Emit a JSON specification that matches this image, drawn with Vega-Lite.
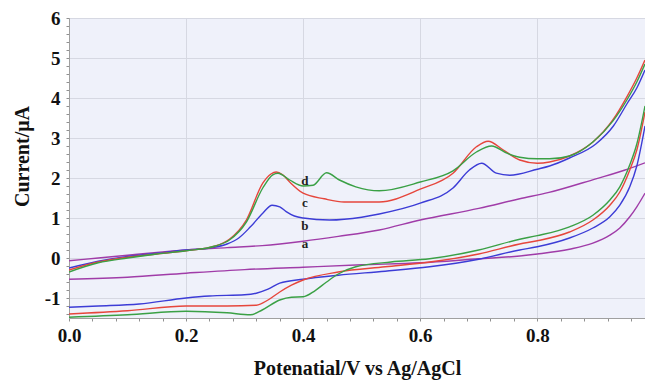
{
  "$schema": "https://vega.github.io/schema/vega-lite/v6.json",
  "width": 576,
  "height": 300,
  "autosize": "none",
  "padding": {"left": 69, "top": 18, "right": 0, "bottom": 63},
  "background": "white",
  "config": {
    "view": {"fill": "#eff1fa", "stroke": "#a8a8b0", "strokeWidth": 1},
    "axis": {
      "labelFont": "Liberation Serif", "labelFontWeight": "bold", "labelFontSize": 19, "labelColor": "#111",
      "titleFont": "Liberation Serif", "titleFontWeight": "bold", "titleFontSize": 20, "titleColor": "#111",
      "domainColor": "#a0a0a0", "tickColor": "#909090", "tickSize": 3, "gridColor": "#d6d8e2", "gridWidth": 1
    }
  },
  "datasets": {
    "curves": [
      {"c":"a","br":"f","x":0,"y":-0.07},{"c":"a","br":"f","x":0.05,"y":0.0},{"c":"a","br":"f","x":0.1,"y":0.07},{"c":"a","br":"f","x":0.15,"y":0.14},{"c":"a","br":"f","x":0.2,"y":0.2},{"c":"a","br":"f","x":0.27,"y":0.26},{"c":"a","br":"f","x":0.33,"y":0.31},{"c":"a","br":"f","x":0.4,"y":0.42},{"c":"a","br":"f","x":0.46,"y":0.54},{"c":"a","br":"f","x":0.53,"y":0.7},{"c":"a","br":"f","x":0.6,"y":0.95},{"c":"a","br":"f","x":0.7,"y":1.24},{"c":"a","br":"f","x":0.77,"y":1.48},{"c":"a","br":"f","x":0.82,"y":1.64},{"c":"a","br":"f","x":0.9,"y":1.98},{"c":"a","br":"f","x":0.95,"y":2.2},{"c":"a","br":"f","x":0.984,"y":2.38},
      {"c":"a","br":"r","x":0,"y":-0.53},{"c":"a","br":"r","x":0.1,"y":-0.48},{"c":"a","br":"r","x":0.2,"y":-0.38},{"c":"a","br":"r","x":0.3,"y":-0.29},{"c":"a","br":"r","x":0.4,"y":-0.23},{"c":"a","br":"r","x":0.5,"y":-0.17},{"c":"a","br":"r","x":0.6,"y":-0.12},{"c":"a","br":"r","x":0.7,"y":-0.02},{"c":"a","br":"r","x":0.77,"y":0.05},{"c":"a","br":"r","x":0.8,"y":0.1},{"c":"a","br":"r","x":0.855,"y":0.22},{"c":"a","br":"r","x":0.895,"y":0.37},{"c":"a","br":"r","x":0.924,"y":0.57},{"c":"a","br":"r","x":0.941,"y":0.75},{"c":"a","br":"r","x":0.958,"y":1.03},{"c":"a","br":"r","x":0.97,"y":1.28},{"c":"a","br":"r","x":0.984,"y":1.62},
      {"c":"b","br":"f","x":0,"y":-0.25},{"c":"b","br":"f","x":0.05,"y":-0.08},{"c":"b","br":"f","x":0.1,"y":0.04},{"c":"b","br":"f","x":0.15,"y":0.12},{"c":"b","br":"f","x":0.2,"y":0.2},{"c":"b","br":"f","x":0.24,"y":0.25},{"c":"b","br":"f","x":0.27,"y":0.35},{"c":"b","br":"f","x":0.29,"y":0.5},{"c":"b","br":"f","x":0.31,"y":0.78},{"c":"b","br":"f","x":0.331,"y":1.12},{"c":"b","br":"f","x":0.347,"y":1.32},{"c":"b","br":"f","x":0.36,"y":1.28},{"c":"b","br":"f","x":0.371,"y":1.16},{"c":"b","br":"f","x":0.385,"y":1.05},{"c":"b","br":"f","x":0.4,"y":1.0},{"c":"b","br":"f","x":0.445,"y":0.95},{"c":"b","br":"f","x":0.5,"y":1.02},{"c":"b","br":"f","x":0.53,"y":1.1},{"c":"b","br":"f","x":0.6,"y":1.37},{"c":"b","br":"f","x":0.656,"y":1.75},{"c":"b","br":"f","x":0.684,"y":2.2},{"c":"b","br":"f","x":0.705,"y":2.37},{"c":"b","br":"f","x":0.73,"y":2.12},{"c":"b","br":"f","x":0.753,"y":2.07},{"c":"b","br":"f","x":0.8,"y":2.22},{"c":"b","br":"f","x":0.821,"y":2.3},{"c":"b","br":"f","x":0.855,"y":2.5},{"c":"b","br":"f","x":0.9,"y":2.85},{"c":"b","br":"f","x":0.93,"y":3.3},{"c":"b","br":"f","x":0.953,"y":3.85},{"c":"b","br":"f","x":0.97,"y":4.25},{"c":"b","br":"f","x":0.984,"y":4.7},
      {"c":"b","br":"r","x":0,"y":-1.23},{"c":"b","br":"r","x":0.05,"y":-1.2},{"c":"b","br":"r","x":0.12,"y":-1.15},{"c":"b","br":"r","x":0.2,"y":-1.0},{"c":"b","br":"r","x":0.24,"y":-0.95},{"c":"b","br":"r","x":0.3,"y":-0.92},{"c":"b","br":"r","x":0.32,"y":-0.88},{"c":"b","br":"r","x":0.34,"y":-0.78},{"c":"b","br":"r","x":0.36,"y":-0.63},{"c":"b","br":"r","x":0.4,"y":-0.53},{"c":"b","br":"r","x":0.46,"y":-0.43},{"c":"b","br":"r","x":0.54,"y":-0.33},{"c":"b","br":"r","x":0.616,"y":-0.22},{"c":"b","br":"r","x":0.7,"y":-0.03},{"c":"b","br":"r","x":0.77,"y":0.2},{"c":"b","br":"r","x":0.8,"y":0.28},{"c":"b","br":"r","x":0.855,"y":0.5},{"c":"b","br":"r","x":0.895,"y":0.75},{"c":"b","br":"r","x":0.924,"y":1.03},{"c":"b","br":"r","x":0.941,"y":1.32},{"c":"b","br":"r","x":0.958,"y":1.78},{"c":"b","br":"r","x":0.97,"y":2.3},{"c":"b","br":"r","x":0.984,"y":3.3},
      {"c":"c","br":"f","x":0,"y":-0.3},{"c":"c","br":"f","x":0.05,"y":-0.1},{"c":"c","br":"f","x":0.1,"y":0.02},{"c":"c","br":"f","x":0.15,"y":0.1},{"c":"c","br":"f","x":0.2,"y":0.18},{"c":"c","br":"f","x":0.25,"y":0.3},{"c":"c","br":"f","x":0.274,"y":0.47},{"c":"c","br":"f","x":0.303,"y":0.95},{"c":"c","br":"f","x":0.331,"y":1.87},{"c":"c","br":"f","x":0.345,"y":2.1},{"c":"c","br":"f","x":0.354,"y":2.15},{"c":"c","br":"f","x":0.365,"y":2.08},{"c":"c","br":"f","x":0.377,"y":1.9},{"c":"c","br":"f","x":0.4,"y":1.62},{"c":"c","br":"f","x":0.436,"y":1.48},{"c":"c","br":"f","x":0.47,"y":1.4},{"c":"c","br":"f","x":0.53,"y":1.4},{"c":"c","br":"f","x":0.6,"y":1.72},{"c":"c","br":"f","x":0.656,"y":2.12},{"c":"c","br":"f","x":0.696,"y":2.78},{"c":"c","br":"f","x":0.716,"y":2.92},{"c":"c","br":"f","x":0.742,"y":2.7},{"c":"c","br":"f","x":0.77,"y":2.45},{"c":"c","br":"f","x":0.8,"y":2.37},{"c":"c","br":"f","x":0.821,"y":2.4},{"c":"c","br":"f","x":0.855,"y":2.55},{"c":"c","br":"f","x":0.895,"y":2.9},{"c":"c","br":"f","x":0.929,"y":3.45},{"c":"c","br":"f","x":0.953,"y":4.03},{"c":"c","br":"f","x":0.97,"y":4.5},{"c":"c","br":"f","x":0.984,"y":4.95},
      {"c":"c","br":"r","x":0,"y":-1.4},{"c":"c","br":"r","x":0.1,"y":-1.32},{"c":"c","br":"r","x":0.2,"y":-1.2},{"c":"c","br":"r","x":0.27,"y":-1.2},{"c":"c","br":"r","x":0.32,"y":-1.18},{"c":"c","br":"r","x":0.34,"y":-1.05},{"c":"c","br":"r","x":0.36,"y":-0.85},{"c":"c","br":"r","x":0.38,"y":-0.68},{"c":"c","br":"r","x":0.4,"y":-0.55},{"c":"c","br":"r","x":0.46,"y":-0.35},{"c":"c","br":"r","x":0.54,"y":-0.22},{"c":"c","br":"r","x":0.616,"y":-0.1},{"c":"c","br":"r","x":0.7,"y":0.1},{"c":"c","br":"r","x":0.77,"y":0.35},{"c":"c","br":"r","x":0.8,"y":0.43},{"c":"c","br":"r","x":0.855,"y":0.65},{"c":"c","br":"r","x":0.895,"y":0.95},{"c":"c","br":"r","x":0.924,"y":1.32},{"c":"c","br":"r","x":0.941,"y":1.65},{"c":"c","br":"r","x":0.958,"y":2.2},{"c":"c","br":"r","x":0.97,"y":2.7},{"c":"c","br":"r","x":0.984,"y":3.65},
      {"c":"d","br":"f","x":0,"y":-0.35},{"c":"d","br":"f","x":0.05,"y":-0.12},{"c":"d","br":"f","x":0.1,"y":0.0},{"c":"d","br":"f","x":0.15,"y":0.1},{"c":"d","br":"f","x":0.2,"y":0.18},{"c":"d","br":"f","x":0.25,"y":0.3},{"c":"d","br":"f","x":0.274,"y":0.45},{"c":"d","br":"f","x":0.303,"y":0.9},{"c":"d","br":"f","x":0.331,"y":1.75},{"c":"d","br":"f","x":0.348,"y":2.08},{"c":"d","br":"f","x":0.357,"y":2.12},{"c":"d","br":"f","x":0.377,"y":1.95},{"c":"d","br":"f","x":0.4,"y":1.8},{"c":"d","br":"f","x":0.417,"y":1.82},{"c":"d","br":"f","x":0.44,"y":2.13},{"c":"d","br":"f","x":0.462,"y":1.95},{"c":"d","br":"f","x":0.49,"y":1.78},{"c":"d","br":"f","x":0.53,"y":1.68},{"c":"d","br":"f","x":0.6,"y":1.9},{"c":"d","br":"f","x":0.656,"y":2.18},{"c":"d","br":"f","x":0.696,"y":2.65},{"c":"d","br":"f","x":0.722,"y":2.8},{"c":"d","br":"f","x":0.748,"y":2.62},{"c":"d","br":"f","x":0.77,"y":2.52},{"c":"d","br":"f","x":0.8,"y":2.48},{"c":"d","br":"f","x":0.821,"y":2.48},{"c":"d","br":"f","x":0.855,"y":2.55},{"c":"d","br":"f","x":0.895,"y":2.9},{"c":"d","br":"f","x":0.929,"y":3.42},{"c":"d","br":"f","x":0.953,"y":3.95},{"c":"d","br":"f","x":0.97,"y":4.4},{"c":"d","br":"f","x":0.984,"y":4.85},
      {"c":"d","br":"r","x":0,"y":-1.48},{"c":"d","br":"r","x":0.1,"y":-1.42},{"c":"d","br":"r","x":0.2,"y":-1.33},{"c":"d","br":"r","x":0.27,"y":-1.37},{"c":"d","br":"r","x":0.31,"y":-1.42},{"c":"d","br":"r","x":0.33,"y":-1.3},{"c":"d","br":"r","x":0.36,"y":-1.05},{"c":"d","br":"r","x":0.38,"y":-0.98},{"c":"d","br":"r","x":0.4,"y":-0.97},{"c":"d","br":"r","x":0.42,"y":-0.82},{"c":"d","br":"r","x":0.44,"y":-0.6},{"c":"d","br":"r","x":0.46,"y":-0.4},{"c":"d","br":"r","x":0.49,"y":-0.22},{"c":"d","br":"r","x":0.55,"y":-0.1},{"c":"d","br":"r","x":0.616,"y":-0.02},{"c":"d","br":"r","x":0.7,"y":0.2},{"c":"d","br":"r","x":0.77,"y":0.47},{"c":"d","br":"r","x":0.8,"y":0.56},{"c":"d","br":"r","x":0.855,"y":0.78},{"c":"d","br":"r","x":0.895,"y":1.07},{"c":"d","br":"r","x":0.924,"y":1.45},{"c":"d","br":"r","x":0.941,"y":1.78},{"c":"d","br":"r","x":0.958,"y":2.33},{"c":"d","br":"r","x":0.97,"y":2.85},{"c":"d","br":"r","x":0.984,"y":3.8}
    ],
    "labels": [
      {"t":"d","x":0.403,"y":1.92},
      {"t":"c","x":0.403,"y":1.38},
      {"t":"b","x":0.403,"y":0.8},
      {"t":"a","x":0.403,"y":0.36}
    ]
  },
  "layer": [
    {
      "data": {"name": "curves"},
      "mark": {"type": "line", "interpolate": "monotone", "strokeWidth": 1.4, "clip": true},
      "encoding": {
        "x": {
          "field": "x", "type": "quantitative",
          "scale": {"domain": [0, 0.984], "nice": false, "zero": false},
          "axis": {
            "title": "Potenatial/V vs Ag/AgCl",
            "values": [0,0.04,0.08,0.12,0.16,0.2,0.24,0.28,0.32,0.36,0.4,0.44,0.48,0.52,0.56,0.6,0.64,0.68,0.72,0.76,0.8,0.84,0.88,0.92,0.96],
            "tickCount": 1000,
            "labelExpr": "abs(datum.value*5 - round(datum.value*5)) < 0.01 ? format(datum.value, '.1f') : ''",
            "gridOpacity": {"condition": {"test": "abs(datum.value*5 - round(datum.value*5)) < 0.01", "value": 1}, "value": 0},
            "labelOverlap": false,
            "labelFlush": false,
            "labelPadding": 5,
            "titleY": 50, "titleBaseline": "middle"
          }
        },
        "y": {
          "field": "y", "type": "quantitative",
          "scale": {"domain": [-1.5, 6], "nice": false, "zero": false},
          "axis": {
            "title": "Current/μA",
            "values": [-1.4,-1.2,-1,-0.8,-0.6,-0.4,-0.2,0,0.2,0.4,0.6,0.8,1,1.2,1.4,1.6,1.8,2,2.2,2.4,2.6,2.8,3,3.2,3.4,3.6,3.8,4,4.2,4.4,4.6,4.8,5,5.2,5.4,5.6,5.8,6],
            "tickCount": 1000,
            "labelExpr": "abs(datum.value - round(datum.value)) < 0.01 ? '' + round(datum.value) : ''",
            "gridOpacity": {"condition": {"test": "abs(datum.value - round(datum.value)) < 0.01", "value": 1}, "value": 0},
            "labelOverlap": false,
            "labelFlush": false,
            "labelPadding": 6,
            "titleAngle": 270, "titleX": -47, "titleY": 138, "titleAlign": "center", "titleBaseline": "middle"
          }
        },
        "color": {
          "field": "c", "type": "nominal",
          "scale": {"domain": ["a","b","c","d"], "range": ["#a03ca8","#3c3cd6","#e6463c","#3aa045"]},
          "legend": null
        },
        "detail": {"field": "br", "type": "nominal"},
        "order": {"field": "x", "type": "quantitative"}
      }
    },
    {
      "data": {"name": "labels"},
      "mark": {"type": "text", "font": "Liberation Serif", "fontWeight": "bold", "fontSize": 13, "color": "#222", "align": "center", "baseline": "middle"},
      "encoding": {
        "x": {"field": "x", "type": "quantitative"},
        "y": {"field": "y", "type": "quantitative"},
        "text": {"field": "t", "type": "nominal"}
      }
    }
  ]
}
